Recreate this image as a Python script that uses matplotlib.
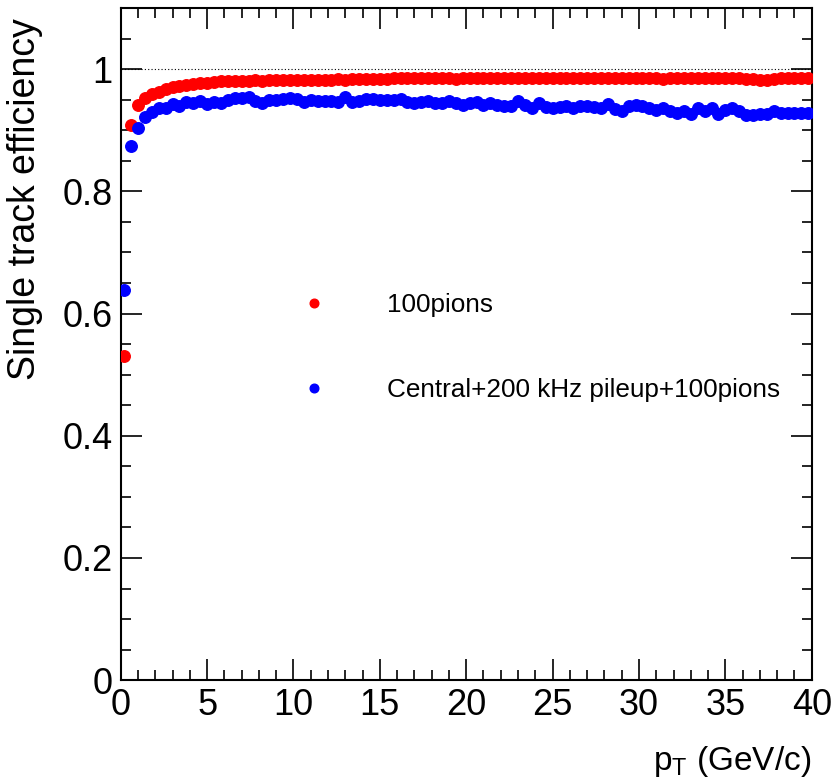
import numpy as np
import matplotlib
matplotlib.use('Agg')
import matplotlib.pyplot as plt
from matplotlib.ticker import MultipleLocator

plt.rcParams['font.family'] = ['Liberation Sans', 'DejaVu Sans']
plt.rcParams['mathtext.fontset'] = 'custom'
plt.rcParams['mathtext.rm'] = 'Liberation Sans'
plt.rcParams['mathtext.it'] = 'Liberation Sans'

#### data
# pT bin centres (0.4 GeV/c bins)
pt = np.arange(100) * 0.4 + 0.2

eff_100pions = [
    0.530, 0.908, 0.941, 0.952, 0.959, 0.963, 0.967, 0.970, 0.973, 0.974,
    0.976, 0.978, 0.978, 0.979, 0.980, 0.981, 0.981,
    0.981, 0.981, 0.982, 0.981, 0.982, 0.982, 0.982, 0.983, 0.982, 0.983,
    0.983, 0.983, 0.983, 0.983, 0.984, 0.983, 0.984,
    0.984, 0.984, 0.984, 0.984, 0.984, 0.985, 0.985, 0.985, 0.985, 0.985,
    0.986, 0.986, 0.985, 0.985, 0.984, 0.985, 0.985,
    0.985, 0.985, 0.986, 0.986, 0.986, 0.985, 0.985, 0.985, 0.985, 0.985,
    0.985, 0.985, 0.985, 0.985, 0.985, 0.985, 0.985,
    0.985, 0.985, 0.986, 0.986, 0.985, 0.985, 0.985, 0.985, 0.985, 0.985,
    0.984, 0.985, 0.986, 0.986, 0.985, 0.985, 0.985,
    0.985, 0.985, 0.985, 0.985, 0.985, 0.984, 0.984, 0.983, 0.983, 0.984,
    0.985, 0.985, 0.985, 0.985, 0.985,
]

eff_pileup = [
    0.638, 0.875, 0.903, 0.922, 0.930, 0.936, 0.936, 0.943, 0.940, 0.946,
    0.944, 0.948, 0.943, 0.946, 0.944, 0.950, 0.952,
    0.952, 0.955, 0.948, 0.945, 0.949, 0.950, 0.951, 0.952, 0.951, 0.946,
    0.949, 0.948, 0.948, 0.948, 0.946, 0.955, 0.947,
    0.948, 0.951, 0.951, 0.950, 0.950, 0.950, 0.951, 0.947, 0.945, 0.947,
    0.948, 0.945, 0.945, 0.948, 0.945, 0.942, 0.945,
    0.946, 0.941, 0.945, 0.941, 0.939, 0.939, 0.948, 0.941, 0.936, 0.944,
    0.938, 0.936, 0.938, 0.940, 0.937, 0.940, 0.940,
    0.938, 0.937, 0.943, 0.934, 0.931, 0.939, 0.941, 0.940, 0.937, 0.933,
    0.937, 0.932, 0.929, 0.931, 0.926, 0.937, 0.932,
    0.937, 0.926, 0.933, 0.936, 0.932, 0.925, 0.925, 0.926, 0.927, 0.932,
    0.928, 0.929, 0.928, 0.929, 0.929,
]

labels = ['100pions', 'Central+200 kHz pileup+100pions']
colors = ['#ff0000', '#0000ff']

#%%
fig = plt.figure(figsize=(8.35, 7.8), dpi=100)
ax = fig.add_axes([0.1446, 0.128, 0.8275, 0.8617])

ax.axhline(1.0, color='black', lw=0.8, ls=(0, (1, 2)), zorder=1)

for eff, lab, col in zip([eff_100pions, eff_pileup], labels, colors):
    ax.plot(pt, eff, 'o', color=col, ms=8.3, mec=col, label=lab, zorder=3)

ax.set_xlim(0, 40)
ax.set_ylim(0, 1.1)
ax.xaxis.set_major_locator(MultipleLocator(5))
ax.xaxis.set_minor_locator(MultipleLocator(1))
ax.yaxis.set_minor_locator(MultipleLocator(0.05))
ax.set_yticks([0, 0.2, 0.4, 0.6, 0.8, 1.0])
ax.set_yticklabels(['0', '0.2', '0.4', '0.6', '0.8', '1'])

ax.tick_params(which='both', direction='in', top=True, right=True,
               labelsize=26, width=1.2)
ax.tick_params(which='major', length=15)
ax.tick_params(which='minor', length=7.5)
ax.tick_params(axis='y', pad=6)
ax.tick_params(axis='x', pad=6)
for sp in ax.spines.values():
    sp.set_linewidth(1.5)

ax.set_ylabel('Single track efficiency', fontsize=27, loc='top')
ax.yaxis.set_label_coords(-0.112, 0.985)
ax.set_xlabel(r'p$_{\mathrm{T}}$ (GeV/c)', fontsize=24, loc='right')
ax.xaxis.set_label_coords(1.0, -0.095)

leg = ax.legend(loc='center left', bbox_to_anchor=(0.246, 0.495),
                frameon=False, fontsize=18.8, markerscale=0.75,
                handlelength=1.8, handletextpad=1.9, labelspacing=2.35,
                borderpad=0, borderaxespad=0)

fig.savefig('out.png', dpi=100)
